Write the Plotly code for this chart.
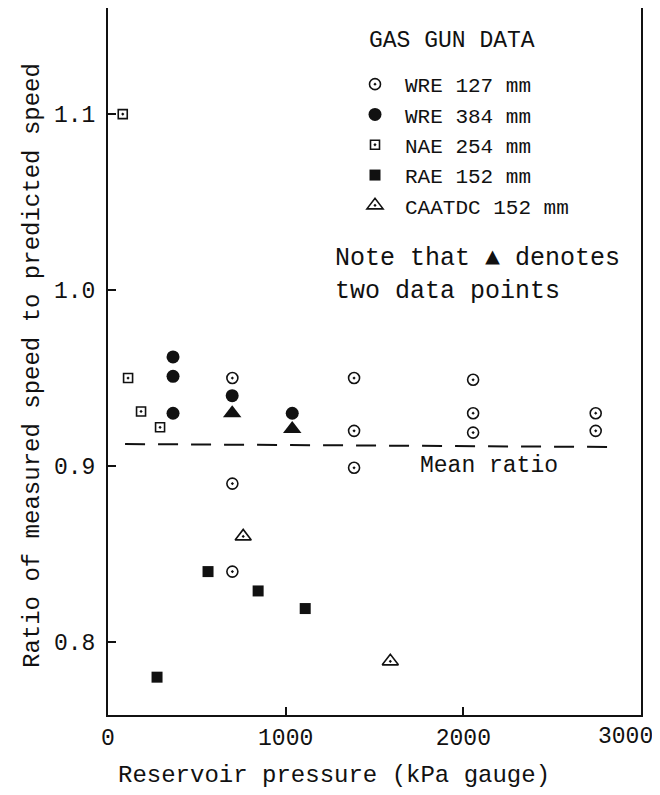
import plotly.graph_objects as go

# ---- data ----
wre127_x = [700, 700, 700, 1385, 1385, 1385, 2055, 2055, 2055, 2745, 2745]
wre127_y = [0.950, 0.890, 0.840, 0.950, 0.920, 0.899, 0.949, 0.930, 0.919, 0.930, 0.920]

wre384_x = [366, 366, 366, 699, 1037]
wre384_y = [0.962, 0.951, 0.930, 0.940, 0.930]

wre384_pair_x = [699, 1037]      # filled triangles: two data points each
wre384_pair_y = [0.930, 0.921]

nae_x = [83, 113, 186, 293]
nae_y = [1.100, 0.950, 0.931, 0.922]

rae_x = [276, 563, 845, 1110]
rae_y = [0.780, 0.840, 0.829, 0.819]

caatdc_x = [761, 1589]
caatdc_y = [0.860, 0.789]

mean_x = [96, 2830]
mean_y = [0.9125, 0.9108]

x_ticks = [0, 1000, 2000, 3000]
x_ticktext = ["0", "1000", "2000", "3000"]
y_ticks = [0.8, 0.9, 1.0, 1.1]
y_ticktext = ["0.8", "0.9", "1.0", "1.1"]

FONT = "Liberation Mono"
INK = "#111111"

# page body has an 8px margin: figure is sized to fit the window
W, H = 652, 787
L, R, T, B = 100, 19, 0, 80
PW, PH = W - L - R, H - T - B


def px(wx):  # window x -> paper x
    return (wx - 8 - L) / PW


def py(wy):  # window y -> paper y
    return 1 - (wy - 8 - T) / PH


fig = go.Figure()

fig.add_trace(go.Scatter(
    x=mean_x, y=mean_y, mode="lines", showlegend=False, hoverinfo="skip",
    line=dict(color=INK, width=2, dash="20px,13px")))

fig.add_trace(go.Scatter(
    x=wre127_x, y=wre127_y, mode="markers", name="WRE 127 mm",
    marker=dict(symbol="circle-open-dot", size=11, color=INK, line=dict(width=1.6, color=INK))))
fig.add_trace(go.Scatter(
    x=wre384_x, y=wre384_y, mode="markers", name="WRE 384 mm",
    marker=dict(symbol="circle", size=13, color=INK, line=dict(width=0))))
fig.add_trace(go.Scatter(
    x=nae_x, y=nae_y, mode="markers", name="NAE 254 mm",
    marker=dict(symbol="square-open-dot", size=9, color=INK, line=dict(width=1.6, color=INK))))
fig.add_trace(go.Scatter(
    x=rae_x, y=rae_y, mode="markers", name="RAE 152 mm",
    marker=dict(symbol="square", size=11, color=INK, line=dict(width=0))))
fig.add_trace(go.Scatter(
    x=caatdc_x, y=caatdc_y, mode="markers", name="CAATDC 152 mm",
    marker=dict(symbol="triangle-up-open-dot", size=14, color=INK, line=dict(width=1.6, color=INK))))
fig.add_trace(go.Scatter(
    x=wre384_pair_x, y=wre384_pair_y, mode="markers", showlegend=False,
    marker=dict(symbol="triangle-up", size=16, color=INK, line=dict(width=0))))

axis_common = dict(showgrid=False, zeroline=False, showline=True, mirror=True,
                   linecolor=INK, linewidth=2, ticks="inside", ticklen=8,
                   tickwidth=1.5, tickcolor=INK,
                   automargin=False,
                   tickfont=dict(family=FONT, size=23, color=INK))

# last x tick label sits flush with the right edge, drawn as an annotation
x_ticktext_axis = x_ticktext[:-1] + [""]

fig.update_layout(
    width=W, height=H,
    margin=dict(l=L, r=R, t=T, b=B, autoexpand=False),
    paper_bgcolor="white", plot_bgcolor="white",
    font=dict(family=FONT, size=22, color=INK),
    xaxis=dict(range=[0, 3000], tickvals=x_ticks, ticktext=x_ticktext_axis,
               ticklabelstandoff=0, **axis_common),
    yaxis=dict(range=[0.7585, 1.1603], tickvals=y_ticks, ticktext=y_ticktext,
               ticklabelstandoff=6, **axis_common),
    legend=dict(x=px(345), y=py(64), xanchor="left", yanchor="top",
                bgcolor="rgba(0,0,0,0)", borderwidth=0,
                font=dict(family=FONT, size=21, color=INK),
                itemwidth=50, tracegroupgap=0),
    showlegend=True,
)

annotations = [
    dict(text=x_ticktext[-1], xref="x", yref="paper", x=x_ticks[-1], y=py(737),
         xshift=14, showarrow=False, xanchor="right", yanchor="middle",
         font=dict(family=FONT, size=23, color=INK)),
    dict(text="GAS GUN DATA", xref="paper", yref="paper", x=px(367), y=py(41),
         showarrow=False, xanchor="left", yanchor="middle",
         font=dict(family=FONT, size=23, color=INK)),
    dict(text="Ratio of measured speed to predicted speed", xref="paper", yref="paper",
         x=px(32), y=py(366), textangle=-90, showarrow=False,
         xanchor="center", yanchor="middle", font=dict(family=FONT, size=24, color=INK)),
    dict(text="Reservoir pressure (kPa gauge)", xref="paper", yref="paper",
         x=px(334), y=py(775), showarrow=False,
         xanchor="center", yanchor="middle", font=dict(family=FONT, size=24, color=INK)),
    dict(text="Note that ▲ denotes<br>two data points", xref="paper", yref="paper",
         x=px(333), y=py(275), showarrow=False, align="left",
         xanchor="left", yanchor="middle", font=dict(family=FONT, size=25, color=INK)),
    dict(text="Mean ratio", x=2145, y=0.9, xref="x", yref="y", showarrow=False,
         xanchor="center", yanchor="middle", font=dict(family=FONT, size=23, color=INK)),
]
fig.update_layout(annotations=annotations)

fig.write_html("out.html")
